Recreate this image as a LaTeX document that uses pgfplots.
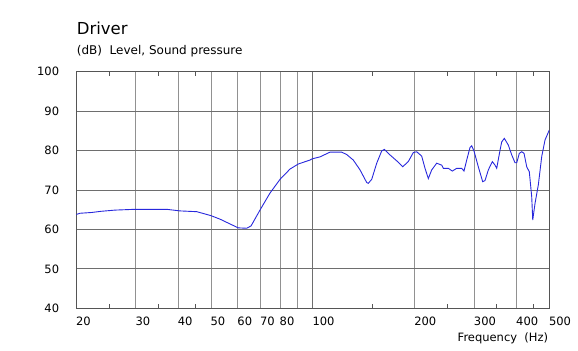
\documentclass[border=0pt]{standalone}
\usepackage{fontspec}
\setmainfont{DejaVu Sans}
\usepackage{pgfplots}
\pgfplotsset{compat=1.18}
\definecolor{curve}{RGB}{40,40,220}
\definecolor{gridv}{RGB}{145,145,145}
\definecolor{gridh}{RGB}{110,110,110}
\definecolor{frame}{RGB}{85,85,85}
\begin{document}
\begin{tikzpicture}
\path[use as bounding box] (-76.3bp,-42.7bp) rectangle (501.7bp,308.3bp);
\begin{axis}[
  at={(0,0)}, anchor=south west,
  scale only axis, width=473bp, height=236.6bp,
  xmode=log, xmin=20, xmax=500, ymin=40, ymax=100,
  axis line style={frame, line width=0.9pt},
  xtick={20,30,40,50,60,70,80,90,100,200,300,400,500},
  xticklabels={20,30,40,50,60,70,80,,100,200,300,400,500},
  ytick={40,50,60,70,80,90,100},
  major tick length=0pt,
  xtick style={draw=none},
  ytick style={draw=none},
  xmajorgrids, ymajorgrids,
  x grid style={gridv, line width=0.8pt},
  y grid style={gridh, line width=0.9pt},
  xticklabel style={anchor=base west, inner sep=0pt, xshift=-0.5bp, yshift=-16.7bp, font=\fontsize{11.5bp}{13bp}\selectfont},
  yticklabel style={anchor=east, inner sep=0pt, xshift=-17bp, font=\fontsize{11.5bp}{13bp}\selectfont},
  /pgf/number format/assume math mode=true,
  log ticks with fixed point,
  clip=true,
]
\draw[gridh, line width=0.9pt] (axis cs:100,40) -- (axis cs:100,100);
\addplot[curve, line width=0.9pt] coordinates {
(20,63.8) (20.5,64.1) (22.2,64.3) (23.7,64.6) (26.0,64.9) (29.7,65.1) (37.0,65.1)
(40.5,64.7) (45.4,64.5) (50.0,63.5) (53.2,62.6) (56.9,61.4) (60.2,60.4) (63.8,60.3)
(65.7,60.9) (69.8,64.9) (74.7,69.2) (80.0,72.7) (85.6,75.3) (90.6,76.6) (98.1,77.6)
(99.5,77.9) (105.0,78.4) (112.4,79.6) (121.7,79.6) (125.9,79.0) (131.7,77.6)
(137.9,75.1) (144.3,71.9) (145.9,71.7) (149.3,72.7) (154.5,76.8) (159.8,79.9)
(162.7,80.3) (169.1,78.9) (177.0,77.4) (184.4,75.9) (191.5,77.2) (198.2,79.5)
(202.8,79.7) (209.8,78.6) (214.6,75.5) (219.5,72.9) (224.6,75.1) (232.4,76.8)
(240.4,76.3) (243.1,75.5) (251.5,75.5) (258.4,74.8) (266.3,75.5) (275.5,75.5)
(279.8,74.8) (285.0,77.6) (291.5,80.8) (294.9,81.2) (299.5,79.9) (308.4,75.9)
(317.8,72.1) (322.8,72.4) (330.2,75.1) (339.3,77.2) (345.6,76.3) (349.6,75.5)
(357.6,80.1) (361.7,82.2) (368.2,83.1) (378.3,81.4) (387.2,78.9) (396.0,76.9)
(400.6,76.9) (407.7,79.3) (414.5,79.7) (421.0,79.3) (428.8,75.9) (436.4,74.6)
(443.6,68.3) (446.7,62.4) (453.7,66.6) (464.0,71.3) (474.9,78.5) (485.7,82.7)
(500,85.2)
};
\end{axis}
\begin{axis}[
  at={(0,0)}, anchor=south west,
  scale only axis, width=473bp, height=236.6bp,
  xmode=log, xmin=20, xmax=500, ymin=40, ymax=100,
  axis line style={draw=none},
  xtick={25,35,45,150,250,350,450},
  xticklabels={},
  ytick=\empty,
  major tick length=4bp,
  tick align=inside,
  xtick style={frame, line width=0.9pt},
]
\end{axis}
\node[anchor=base west, inner sep=0pt, font=\fontsize{16.5bp}{18bp}\selectfont] at (0.4bp,273.3bp) {Driver};
\node[anchor=base west, inner sep=0pt, font=\fontsize{12bp}{14bp}\selectfont] at (0.4bp,253.3bp) {(dB)\ \ Level, Sound pressure};
\node[anchor=base east, inner sep=0pt, font=\fontsize{11.5bp}{13bp}\selectfont] at (472bp,-32.7bp) {Frequency\ \ (Hz)};
\end{tikzpicture}
\end{document}
